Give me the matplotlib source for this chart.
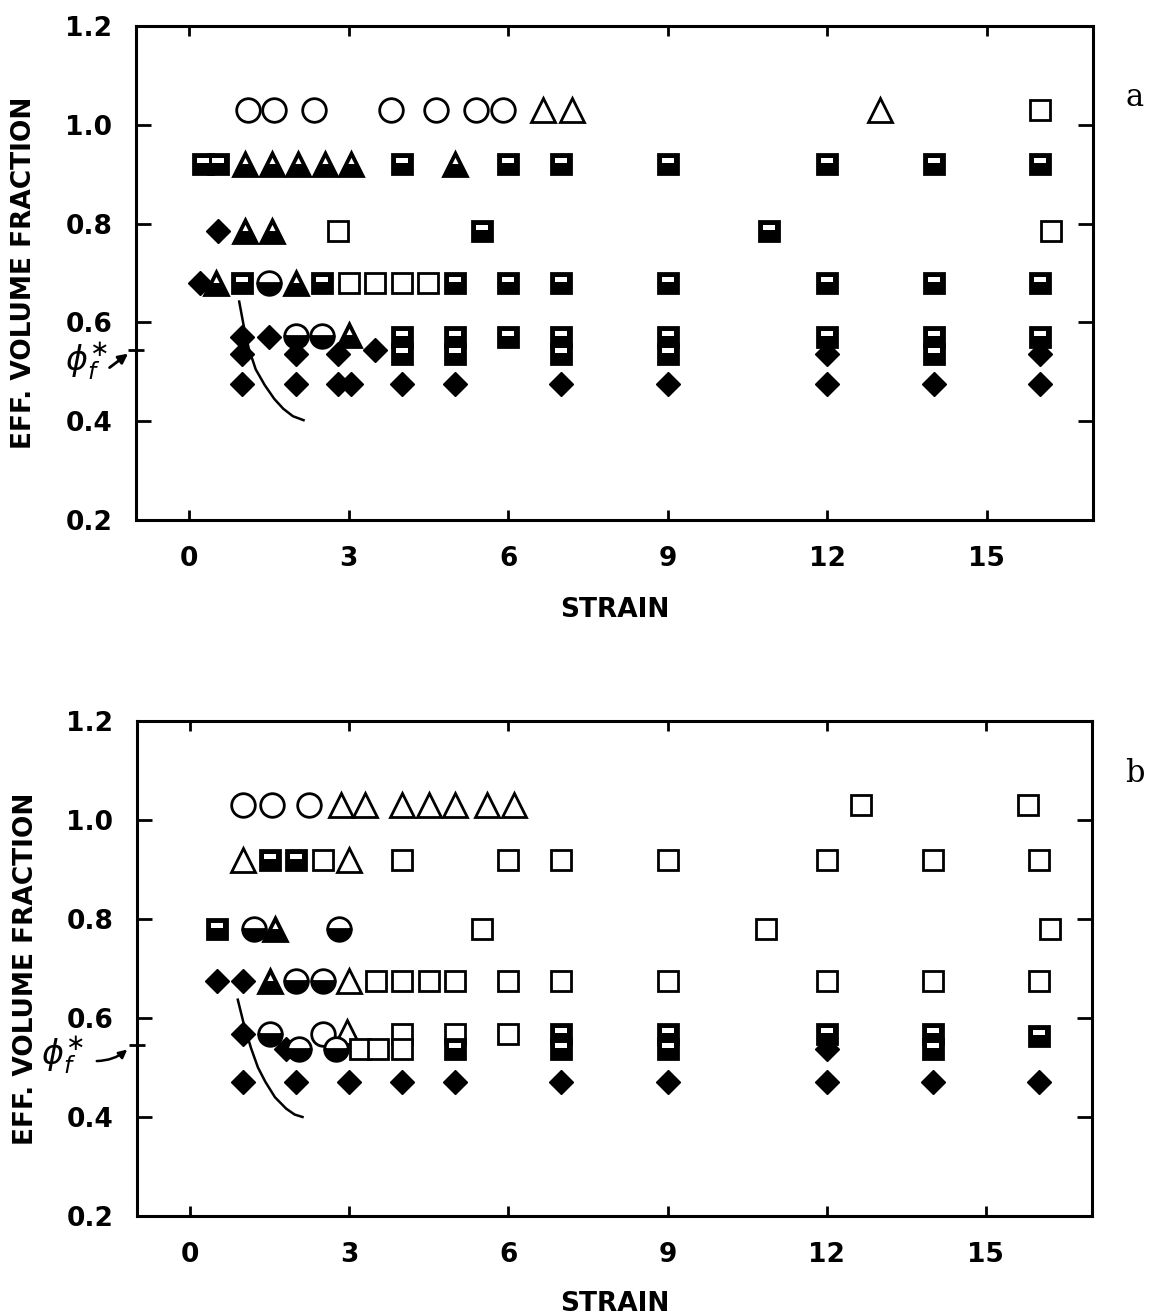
import matplotlib
matplotlib.use('Agg')
import matplotlib.pyplot as plt
from matplotlib.path import Path

# ---------------- data: panel a ----------------
A_OC_X = [1.1, 1.6, 2.35, 3.8, 4.65, 5.4, 5.9]
A_OC_Y = [1.03, 1.03, 1.03, 1.03, 1.03, 1.03, 1.03]
A_OT_X = [6.65, 7.2, 13.0]
A_OT_Y = [1.03, 1.03, 1.03]
A_OS_X = [16.0, 2.8, 16.2, 3.0, 3.5, 4.0, 4.5]
A_OS_Y = [1.03, 0.785, 0.785, 0.68, 0.68, 0.68, 0.68]
A_FD_X = [0.55, 0.2, 1.0, 1.5, 1.0, 2.0, 2.8, 3.5, 12, 16,
          1.0, 2.0, 2.8, 3.05, 4, 5, 7, 9, 12, 14, 16]
A_FD_Y = [0.785, 0.68, 0.57, 0.57, 0.535, 0.535, 0.535, 0.545, 0.535, 0.535,
          0.475, 0.475, 0.475, 0.475, 0.475, 0.475, 0.475, 0.475, 0.475, 0.475, 0.475]
A_HS_X = [0.25, 0.55, 4.0, 6, 7, 9, 12, 14, 16,
          5.5, 10.9,
          1.0, 2.5, 5, 6, 7, 9, 12, 14, 16,
          4, 5, 6, 7, 9, 12, 14, 16,
          4, 5, 7, 9, 14]
A_HS_Y = [0.92] * 9 + [0.785] * 2 + [0.68] * 9 + [0.57] * 8 + [0.535] * 5
A_HT_X = [1.05, 1.55, 2.05, 2.55, 3.05, 5.0, 1.05, 1.55, 0.5, 2.0, 3.0]
A_HT_Y = [0.92, 0.92, 0.92, 0.92, 0.92, 0.92, 0.785, 0.785, 0.68, 0.68, 0.575]
A_HC_X = [1.5, 2.0, 2.5]
A_HC_Y = [0.68, 0.572, 0.572]
A_CURVE_X = [0.94, 1.03, 1.12, 1.25, 1.42, 1.6, 1.77, 1.95, 2.15]
A_CURVE_Y = [0.642, 0.59, 0.547, 0.505, 0.473, 0.445, 0.425, 0.41, 0.402]

# ---------------- data: panel b ----------------
B_OC_X = [1.0, 1.55, 2.25, 2.5]
B_OC_Y = [1.03, 1.03, 1.03, 0.568]
B_OT_X = [2.85, 3.3, 4.0, 4.5, 5.0, 5.6, 6.1, 1.0, 3.0, 3.0, 2.95]
B_OT_Y = [1.03] * 7 + [0.92, 0.92, 0.675, 0.572]
B_OS_X = [12.65, 15.8,
          2.5, 4, 6, 7, 9, 12, 14, 16,
          5.5, 10.85, 16.2,
          3.5, 4, 4.5, 5, 6, 7, 9, 12, 14, 16,
          4, 6, 5,
          3.2, 3.55, 4]
B_OS_Y = [1.03] * 2 + [0.92] * 8 + [0.78] * 3 + [0.675] * 10 + [0.568] * 3 + [0.538] * 3
B_FD_X = [0.5, 1.0, 1.0, 1.8, 12, 1, 2, 3, 4, 5, 7, 9, 12, 14, 16]
B_FD_Y = [0.675, 0.675, 0.568, 0.538, 0.538] + [0.471] * 10
B_HS_X = [1.5, 2.0, 0.5, 7, 9, 12, 14, 16, 5, 7, 9, 14]
B_HS_Y = [0.92, 0.92, 0.78, 0.568, 0.568, 0.568, 0.568, 0.563, 0.538, 0.538, 0.538, 0.538]
B_HT_X = [1.6, 1.5]
B_HT_Y = [0.78, 0.675]
B_HC_X = [1.2, 2.8, 2.0, 2.5, 1.5, 2.05, 2.75]
B_HC_Y = [0.78, 0.78, 0.675, 0.675, 0.568, 0.538, 0.538]
B_CURVE_X = [0.9, 1.02, 1.15, 1.28, 1.42, 1.6, 1.81, 1.97, 2.12]
B_CURVE_Y = [0.637, 0.585, 0.539, 0.5, 0.471, 0.44, 0.417, 0.405, 0.40]

X_TICKS = [0, 3, 6, 9, 12, 15]
Y_TICKS = [0.2, 0.4, 0.6, 0.8, 1.0, 1.2]
Y_TICK_LABELS = ['0.2', '0.4', '0.6', '0.8', '1.0', '1.2']
PHI_STAR = 0.545
X_LABEL = 'STRAIN'
Y_LABEL = 'EFF. VOLUME FRACTION'

# ---------------- styles ----------------
plt.rcParams['font.family'] = ['DejaVu Sans']


def notch(verts):
    # white notch inside a unit marker box; the two bare MOVETOs fix the marker scale
    v = [(-0.5, -0.5), (0.5, 0.5)] + verts + [verts[0]]
    c = [Path.MOVETO, Path.MOVETO, Path.MOVETO] + [Path.LINETO] * (len(verts) - 1) + [Path.CLOSEPOLY]
    return Path(v, c)


SQ_NOTCH = notch([(-0.3, 0.07), (0.3, 0.07), (0.3, 0.31), (-0.3, 0.31)])
TRI_NOTCH = notch([(0.0, 0.28), (-0.13, 0.02), (0.13, 0.02)])

SQ = 14.5
TR = 17
CI = 17
STY = {
    'oc': dict(marker='o', markersize=CI, markerfacecolor='white', markeredgecolor='black', markeredgewidth=2.0),
    'ot': dict(marker='^', markersize=TR, markerfacecolor='white', markeredgecolor='black', markeredgewidth=2.0),
    'os': dict(marker='s', markersize=SQ, markerfacecolor='white', markeredgecolor='black', markeredgewidth=2.0),
    'fd': dict(marker='D', markersize=12, markerfacecolor='black', markeredgecolor='black', markeredgewidth=1.0),
    'hs': dict(marker='s', markersize=SQ, markerfacecolor='black', markeredgecolor='black', markeredgewidth=2.0),
    'ht': dict(marker='^', markersize=TR, markerfacecolor='black', markeredgecolor='black', markeredgewidth=2.0),
    'hc': dict(marker='o', markersize=CI, markerfacecolor='black', markerfacecoloralt='white',
               fillstyle='bottom', markeredgecolor='black', markeredgewidth=2.0),
}
NOTCH = {
    'hs': dict(marker=SQ_NOTCH, markersize=SQ, markerfacecolor='white', markeredgewidth=0),
    'ht': dict(marker=TRI_NOTCH, markersize=TR, markerfacecolor='white', markeredgewidth=0),
}

fig = plt.figure(figsize=(11.54, 13.16), dpi=100)
ax_a = fig.add_axes([0.1179, 0.6049, 0.8293, 0.3754])
ax_b = fig.add_axes([0.1187, 0.0760, 0.8276, 0.3761])


def style_axes(ax, xlab_y):
    ax.set_xlim(-1, 17)
    ax.set_ylim(0.2, 1.2)
    ax.set_xticks(X_TICKS)
    ax.set_xticklabels([str(t) for t in X_TICKS])
    ax.set_yticks(Y_TICKS)
    ax.set_yticklabels(Y_TICK_LABELS)
    ax.set_yticks([PHI_STAR], minor=True)
    for s in ax.spines.values():
        s.set_linewidth(2.2)
    ax.tick_params(axis='x', which='major', direction='in', top=True, bottom=True,
                   length=7, width=2, labelsize=19, pad=19)
    ax.tick_params(axis='y', which='major', direction='in', left=True, right=True,
                   length=11, width=2, labelsize=19, pad=17)
    ax.tick_params(axis='y', which='minor', direction='inout', left=True, right=False,
                   length=12, width=2)
    for lab in ax.get_xticklabels() + ax.get_yticklabels():
        lab.set_fontweight('bold')
    ax.set_xlabel(X_LABEL, fontsize=19, fontweight='bold')
    ax.set_ylabel(Y_LABEL, fontsize=19, fontweight='bold')
    ax.xaxis.set_label_coords(0.5, xlab_y)
    ax.yaxis.set_label_coords(-0.103, 0.5)


def draw(ax, series, curve_x, curve_y):
    ax.plot(curve_x, curve_y, color='black', linewidth=1.8, zorder=2)
    for key, xs, ys in series:
        ax.plot(xs, ys, linestyle='none', zorder=3, **STY[key])
        if key in NOTCH:
            ax.plot(xs, ys, linestyle='none', zorder=3, **NOTCH[key])


draw(ax_a, [('oc', A_OC_X, A_OC_Y), ('ot', A_OT_X, A_OT_Y), ('os', A_OS_X, A_OS_Y),
            ('hc', A_HC_X, A_HC_Y), ('ht', A_HT_X, A_HT_Y), ('fd', A_FD_X, A_FD_Y),
            ('hs', A_HS_X, A_HS_Y)], A_CURVE_X, A_CURVE_Y)
draw(ax_b, [('oc', B_OC_X, B_OC_Y), ('ot', B_OT_X, B_OT_Y), ('fd', B_FD_X, B_FD_Y),
            ('ht', B_HT_X, B_HT_Y), ('hc', B_HC_X, B_HC_Y), ('os', B_OS_X, B_OS_Y),
            ('hs', B_HS_X, B_HS_Y)], B_CURVE_X, B_CURVE_Y)

style_axes(ax_a, -0.156)
style_axes(ax_b, -0.152)

# phi_f* annotations
ta = ax_a.get_yaxis_transform()
ax_a.text(-0.052, 0.522, r'$\phi_f^{\ast}$', transform=ta, fontsize=24,
          ha='center', va='center', clip_on=False)
ax_a.annotate('', xy=(-0.006, PHI_STAR - 0.005), xycoords=ta,
              xytext=(-0.030, 0.505), textcoords=ta,
              arrowprops=dict(arrowstyle='-|>', color='black', lw=2, mutation_scale=14))
tb = ax_b.get_yaxis_transform()
ax_b.text(-0.078, 0.525, r'$\phi_f^{\ast}$', transform=tb, fontsize=24,
          ha='center', va='center', clip_on=False)
ax_b.annotate('', xy=(-0.008, PHI_STAR - 0.005), xycoords=tb,
              xytext=(-0.045, 0.513), textcoords=tb,
              arrowprops=dict(arrowstyle='-|>', color='black', lw=1.8, mutation_scale=12,
                              connectionstyle='arc3,rad=0.2'))

fig.text(0.9835, 0.926, 'a', fontsize=22, family='DejaVu Serif', ha='center', va='center')
fig.text(0.9835, 0.4126, 'b', fontsize=22, family='DejaVu Serif', ha='center', va='center')

fig.savefig('out.png', dpi=100, facecolor='white')
